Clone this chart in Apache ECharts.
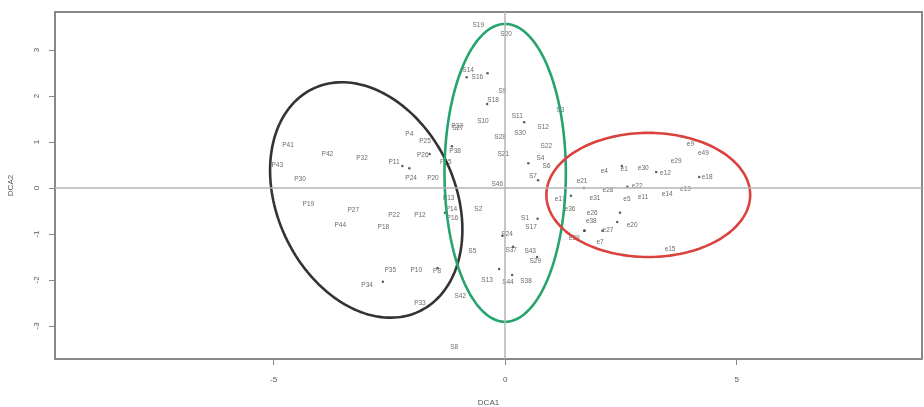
<!DOCTYPE html>
<html>
<head>
<meta charset="utf-8">
<script src="https://cdn.jsdelivr.net/npm/echarts@6/dist/echarts.min.js"></script>
<style>
  html, body { margin: 0; padding: 0; background: #fff; }
  #chart { width: 924px; height: 407px; }
</style>
</head>
<body>
<div id="chart"></div>
<script>
// DCA site scores, grouped by cluster
const pLabels = ['P41','P43','P42','P32','P11','P30','P19','P27','P44','P22','P18','P12','P24','P20','P4','P25','P26','P37','P38','P15','P13','P14','P16','P35','P10','P8','P34','P33'];
const pX = [-4.69,-4.92,-3.84,-3.09,-2.40,-4.43,-4.25,-3.28,-3.56,-2.40,-2.63,-1.84,-2.03,-1.56,-2.07,-1.73,-1.78,-1.04,-1.08,-1.28,-1.22,-1.16,-1.14,-2.48,-1.92,-1.47,-2.98,-1.84];
const pY = [0.93,0.50,0.74,0.65,0.57,0.20,-0.35,-0.48,-0.80,-0.59,-0.85,-0.59,0.22,0.22,1.17,1.02,0.72,1.35,0.80,0.57,-0.22,-0.46,-0.65,-1.78,-1.78,-1.80,-2.11,-2.50];

const sLabels = ['S19','S20','S14','S16','S9','S18','S3','S27','S10','S11','S12','S30','S28','S21','S22','S4','S6','S7','S46','S2','S1','S17','S24','S37','S43','S5','S29','S13','S44','S38','S42','S8'];
const sX = [-0.58,0.02,-0.80,-0.60,-0.06,-0.26,1.19,-1.02,-0.48,0.26,0.82,0.32,-0.11,-0.04,0.89,0.76,0.89,0.60,-0.17,-0.58,0.43,0.56,0.04,0.13,0.54,-0.71,0.65,-0.39,0.06,0.45,-0.97,-1.10];
const sY = [3.54,3.35,2.57,2.41,2.11,1.91,1.70,1.30,1.46,1.57,1.33,1.20,1.11,0.74,0.91,0.65,0.48,0.26,0.09,-0.46,-0.65,-0.85,-1.00,-1.35,-1.37,-1.37,-1.59,-2.00,-2.04,-2.02,-2.35,-3.46];

const eLabels = ['e9','e49','e29','e4','e1','e30','e12','e18','e21','e22','e19','e14','e11','e28','e31','e5','e17','e36','e26','e38','e20','e27','e39','e7','e15'];
const eX = [4.00,4.28,3.69,2.14,2.57,2.98,3.46,4.36,1.66,2.85,3.89,3.50,2.98,2.22,1.94,2.63,1.19,1.40,1.88,1.86,2.74,2.22,1.49,2.05,3.56];
const eY = [0.96,0.76,0.59,0.37,0.41,0.43,0.33,0.24,0.15,0.04,-0.02,-0.13,-0.20,-0.04,-0.22,-0.24,-0.24,-0.46,-0.54,-0.72,-0.80,-0.91,-1.09,-1.17,-1.33];

// Species scores shown as plain dots
const dotX = [-2.22,-2.07,-1.63,-0.38,-0.83,-0.39,0.41,0.50,0.71,1.42,1.70,3.26,4.19,1.71,2.64,2.52,2.48,2.42,2.10,1.71,-0.06,0.70,0.17,-0.13,0.69,0.15,-1.30,-1.46,-2.64,-1.15];
const dotY = [0.48,0.43,0.74,2.50,2.41,1.83,1.43,0.54,0.17,-0.17,0.00,0.35,0.24,-0.93,0.03,0.48,-0.54,-0.74,-0.93,-0.93,-1.04,-0.67,-1.28,-1.76,-1.50,-1.89,-0.54,-1.74,-2.04,0.91];

// Cluster outlines: centre x, centre y, semi-axis a, semi-axis b, rotation (deg)
const ellipseBlack = [-3.00, -0.26, 2.68, 1.92, -65];
const ellipseGreen = [0.00, 0.33, 1.31, 3.24, 0];
const ellipseRed   = [3.09, -0.15, 2.20, 1.35, 0];

const xTicks = [-5, 0, 5];
const yTicks = [-3, -2, -1, 0, 1, 2, 3];

function outline(e) {
  const [cx, cy, a, b, deg] = e;
  const r = deg * Math.PI / 180;
  const pts = [];
  for (let i = 0; i <= 180; i++) {
    const t = i / 180 * 2 * Math.PI;
    const u = a * Math.cos(t), v = b * Math.sin(t);
    pts.push([cx + u * Math.cos(r) - v * Math.sin(r), cy + u * Math.sin(r) + v * Math.cos(r)]);
  }
  return pts;
}

function labelled(names, xs, ys) {
  return names.map((n, i) => ({ name: n, value: [xs[i], ys[i]] }));
}

const labelSeries = (names, xs, ys) => ({
  type: 'scatter',
  data: labelled(names, xs, ys),
  symbolSize: 0,
  silent: true,
  label: {
    show: true, position: 'inside', formatter: '{b}',
    fontSize: 6.5, color: '#444', fontFamily: 'Liberation Sans'
  },
  z: 3
});

const ellipseSeries = (e, color) => ({
  type: 'line',
  data: outline(e),
  showSymbol: false,
  smooth: false,
  silent: true,
  lineStyle: { color: color, width: 2.6 },
  z: 4
});

const chart = echarts.init(document.getElementById('chart'), null, { renderer: 'canvas' });
chart.setOption({
  animation: false,
  backgroundColor: '#fff',
  grid: {
    left: 55, top: 12, right: 2, bottom: 48,
    outerBoundsMode: 'none',
    show: true, borderColor: '#888', borderWidth: 2, backgroundColor: 'transparent'
  },
  xAxis: {
    type: 'value', min: -9.72, max: 9.0,
    name: 'DCA1', nameLocation: 'middle', nameGap: 40,
    nameTextStyle: { fontSize: 8, color: '#555', fontFamily: 'Liberation Sans' },
    axisLine: { show: true, onZero: false, lineStyle: { color: '#888', width: 2 } },
    axisTick: { show: true, customValues: xTicks, length: 6, lineStyle: { color: '#888' } },
    axisLabel: { customValues: xTicks, fontSize: 8, color: '#555', margin: 17, fontFamily: 'Liberation Sans' },
    splitLine: { show: false }
  },
  yAxis: {
    type: 'value', min: -3.72, max: 3.83,
    name: 'DCA2', nameLocation: 'middle', nameGap: 40, nameRotate: 90,
    nameTextStyle: { fontSize: 8, color: '#555', fontFamily: 'Liberation Sans' },
    axisLine: { show: true, onZero: false, lineStyle: { color: '#888', width: 2 } },
    axisTick: { show: true, customValues: yTicks, length: 6, lineStyle: { color: '#888' } },
    axisLabel: { customValues: yTicks, rotate: 90, fontSize: 8, color: '#555', margin: 14, fontFamily: 'Liberation Sans' },
    splitLine: { show: false }
  },
  series: [
    {
      type: 'scatter',
      data: dotX.map((x, i) => [x, dotY[i]]),
      symbolSize: 2.5,
      itemStyle: { color: '#333' },
      silent: true,
      z: 2,
      markLine: {
        silent: true, symbol: 'none', label: { show: false },
        lineStyle: { color: '#b5b5b5', width: 1.5, type: 'solid' },
        data: [{ xAxis: 0 }, { yAxis: 0 }]
      }
    },
    labelSeries(pLabels, pX, pY),
    labelSeries(sLabels, sX, sY),
    labelSeries(eLabels, eX, eY),
    ellipseSeries(ellipseBlack, '#333333'),
    ellipseSeries(ellipseGreen, '#27a36e'),
    ellipseSeries(ellipseRed, '#d9423f')
  ]
});
</script>
</body>
</html>
